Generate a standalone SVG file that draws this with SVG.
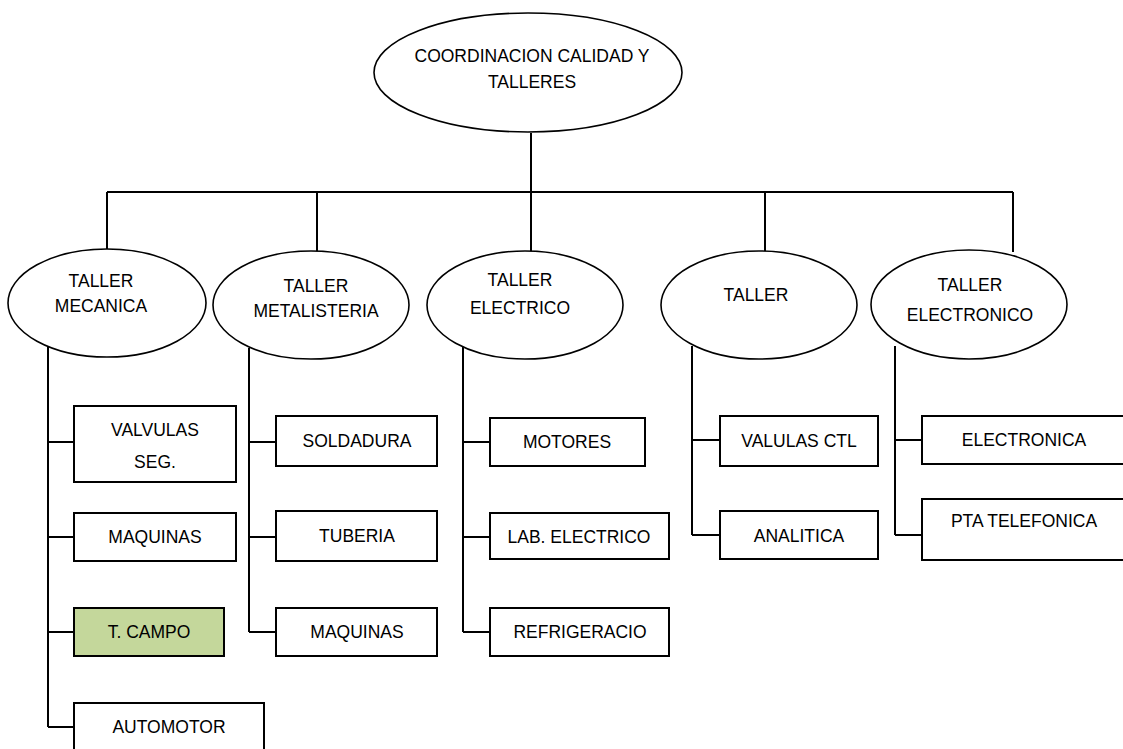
<svg xmlns="http://www.w3.org/2000/svg" width="1123" height="749" viewBox="0 0 1123 749">
  <style>
    .oval { fill: #ffffff; stroke: #000000; stroke-width: 1.6; }
    .box { fill: #ffffff; stroke: #000000; stroke-width: 2; }
    .box.hl { fill: #c4d79b; }
    .lbl { font-family: "Liberation Sans", Arial, sans-serif; font-size: 17.5px; fill: #000000; text-anchor: middle; }
    .wire { fill: none; stroke: #000000; stroke-width: 2; }
  </style>
  <rect width="1123" height="749" fill="#ffffff"/>

  <!-- connectors -->
  <g id="connectors" class="wire">
    <path d="M531 133 V192"/>
    <path d="M107 192 H1013"/>
    <path d="M107 192 V250 M317 192 V252 M531 192 V252 M765 192 V252 M1013 192 V252"/>
    <!-- mecanica branch -->
    <path d="M48 347 V727 M48 442 H74 M48 537 H74 M48 632 H74 M48 727 H74"/>
    <!-- metalisteria branch -->
    <path d="M249 348 V632 M249 442 H276 M249 537 H276 M249 632 H276"/>
    <!-- electrico branch -->
    <path d="M463 346 V632 M463 442 H490 M463 537 H490 M463 632 H490"/>
    <!-- taller branch -->
    <path d="M692 346 V535 M692 440 H720 M692 535 H720"/>
    <!-- electronico branch -->
    <path d="M895 346 V535 M895 440 H922 M895 535 H922"/>
  </g>

  <!-- top level -->
  <g id="coordinacion">
    <ellipse class="oval" cx="528" cy="72.5" rx="154" ry="59.5"/>
    <text class="lbl" x="532" y="62">COORDINACION CALIDAD Y</text>
    <text class="lbl" x="532" y="88">TALLERES</text>
  </g>

  <!-- workshops -->
  <g id="taller-mecanica">
    <ellipse class="oval" cx="107" cy="303" rx="99" ry="54"/>
    <text class="lbl" x="101" y="287">TALLER</text>
    <text class="lbl" x="101" y="312">MECANICA</text>
  </g>
  <g id="taller-metalisteria">
    <ellipse class="oval" cx="311" cy="305" rx="98" ry="54"/>
    <text class="lbl" x="316" y="292">TALLER</text>
    <text class="lbl" x="316" y="317">METALISTERIA</text>
  </g>
  <g id="taller-electrico">
    <ellipse class="oval" cx="525" cy="305" rx="98" ry="54"/>
    <text class="lbl" x="520" y="286">TALLER</text>
    <text class="lbl" x="520" y="314">ELECTRICO</text>
  </g>
  <g id="taller">
    <ellipse class="oval" cx="759" cy="305" rx="98" ry="54"/>
    <text class="lbl" x="756" y="301">TALLER</text>
  </g>
  <g id="taller-electronico">
    <ellipse class="oval" cx="969" cy="304.5" rx="98" ry="54.5"/>
    <text class="lbl" x="970" y="291">TALLER</text>
    <text class="lbl" x="970" y="321">ELECTRONICO</text>
  </g>

  <!-- mecanica units -->
  <g id="valvulas-seg">
    <rect class="box" x="74" y="406" width="162" height="76"/>
    <text class="lbl" x="155" y="436">VALVULAS</text>
    <text class="lbl" x="155" y="468">SEG.</text>
  </g>
  <g id="maquinas-mec">
    <rect class="box" x="74" y="513" width="162" height="48"/>
    <text class="lbl" x="155" y="543">MAQUINAS</text>
  </g>
  <g id="t-campo">
    <rect class="box hl" x="74" y="608" width="150" height="48"/>
    <text class="lbl" x="149" y="638">T. CAMPO</text>
  </g>
  <g id="automotor">
    <rect class="box" x="74" y="703" width="190" height="60"/>
    <text class="lbl" x="169" y="733">AUTOMOTOR</text>
  </g>

  <!-- metalisteria units -->
  <g id="soldadura">
    <rect class="box" x="276" y="416" width="161" height="50"/>
    <text class="lbl" x="357" y="447">SOLDADURA</text>
  </g>
  <g id="tuberia">
    <rect class="box" x="276" y="511" width="161" height="50"/>
    <text class="lbl" x="357" y="542">TUBERIA</text>
  </g>
  <g id="maquinas-met">
    <rect class="box" x="276" y="608" width="161" height="48"/>
    <text class="lbl" x="357" y="638">MAQUINAS</text>
  </g>

  <!-- electrico units -->
  <g id="motores">
    <rect class="box" x="490" y="418" width="155" height="48"/>
    <text class="lbl" x="567" y="448">MOTORES</text>
  </g>
  <g id="lab-electrico">
    <rect class="box" x="490" y="513" width="179" height="46"/>
    <text class="lbl" x="579" y="543">LAB. ELECTRICO</text>
  </g>
  <g id="refrigeracio">
    <rect class="box" x="490" y="608" width="179" height="48"/>
    <text class="lbl" x="580" y="638">REFRIGERACIO</text>
  </g>

  <!-- taller units -->
  <g id="valulas-ctl">
    <rect class="box" x="720" y="416" width="158" height="50"/>
    <text class="lbl" x="799" y="447">VALULAS CTL</text>
  </g>
  <g id="analitica">
    <rect class="box" x="720" y="511" width="158" height="48"/>
    <text class="lbl" x="799" y="542">ANALITICA</text>
  </g>

  <!-- electronico units -->
  <g id="electronica">
    <rect class="box" x="922" y="416" width="220" height="48"/>
    <text class="lbl" x="1024" y="446">ELECTRONICA</text>
  </g>
  <g id="pta-telefonica">
    <rect class="box" x="922" y="499" width="220" height="61"/>
    <text class="lbl" x="1024" y="527">PTA TELEFONICA</text>
  </g>
</svg>
